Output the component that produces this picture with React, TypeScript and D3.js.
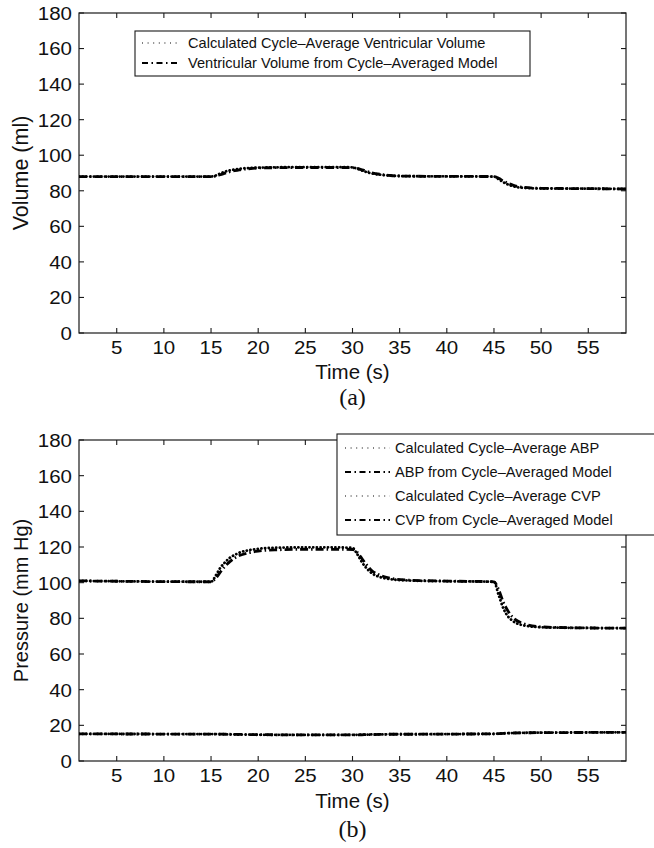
import React from "react";
import * as d3 from "d3";

// ---------- data ----------
const xTicks = [5, 10, 15, 20, 25, 30, 35, 40, 45, 50, 55];
const yTicks = [0, 20, 40, 60, 80, 100, 120, 140, 160, 180];

const timeS = [1, 15, 15.5, 16, 16.5, 17, 17.5, 18, 19, 20, 22, 25, 28, 30, 30.5, 31, 31.5, 32, 33, 34, 36, 40, 45, 45.5, 46, 46.5, 47, 48, 50, 55, 59];

const volCalc = [88, 88, 88.6, 89.8, 90.8, 91.5, 92, 92.4, 92.8, 93, 93.2, 93.3, 93.3, 93.2, 92.4, 91.4, 90.5, 89.8, 89, 88.5, 88.2, 88.1, 88, 86.5, 84.8, 83.5, 82.6, 81.7, 81.3, 81.2, 81];
const volModel = [88, 88, 88.3, 89, 89.9, 90.7, 91.3, 91.8, 92.4, 92.8, 93, 93.1, 93.1, 93, 92.6, 91.8, 91, 90.2, 89.2, 88.6, 88.2, 88.1, 88, 87, 85.5, 84.2, 83.2, 82, 81.4, 81.2, 81];

const abpCalc = [101, 100.5, 104, 108.5, 111.5, 114, 115.5, 116.8, 118.2, 119, 119.6, 119.8, 119.8, 119.5, 116, 111.5, 108, 105.5, 103, 102, 101.2, 100.8, 100.5, 93, 85.5, 81, 78.5, 76.2, 75, 74.6, 74.5];
const abpModel = [101, 100.5, 102.5, 106, 109.3, 111.8, 113.8, 115.2, 116.8, 117.7, 118.4, 118.7, 118.7, 118.6, 117, 113.5, 110, 107, 104, 102.5, 101.4, 100.9, 100.5, 96, 89, 84, 80.5, 77.3, 75.2, 74.6, 74.5];
const cvpCalc = [15.2, 15.1, 15.1, 15.0, 15.0, 14.9, 14.9, 14.8, 14.8, 14.7, 14.7, 14.6, 14.6, 14.7, 14.7, 14.8, 14.8, 14.9, 14.9, 15, 15, 15.1, 15.2, 15.4, 15.5, 15.6, 15.7, 15.8, 15.9, 16, 16.1];
const cvpModel = [15.2, 15.1, 15.1, 15.1, 15.0, 15.0, 14.9, 14.9, 14.8, 14.8, 14.7, 14.6, 14.6, 14.7, 14.7, 14.7, 14.8, 14.8, 14.9, 15, 15, 15.1, 15.2, 15.3, 15.5, 15.6, 15.7, 15.8, 15.9, 16, 16.1];

const legendA = ["Calculated Cycle\u2013Average Ventricular Volume", "Ventricular Volume from Cycle\u2013Averaged Model"];
const legendB = ["Calculated Cycle\u2013Average ABP", "ABP from Cycle\u2013Averaged Model", "Calculated Cycle\u2013Average CVP", "CVP from Cycle\u2013Averaged Model"];

// ---------- styles ----------
const SANS = "'Liberation Sans', Arial, Helvetica, sans-serif";
const SERIF = "'Liberation Serif', 'Times New Roman', serif";
const DOT = { dash: "0.1,3.6", width: 2.8, cap: "round" as const };
const DASHDOT = { dash: "8,3,1.5,3", width: 2.8, cap: "butt" as const };
const LEG_DOT = { dash: "1,4.6", width: 1.1, cap: "butt" as const };
const LEG_DASHDOT = { dash: "6,3.5,1.5,3.5", width: 1.8, cap: "butt" as const };

type Series = { values: number[]; style: typeof DOT };
type PanelProps = {
  top: number; bottom: number; yLabel: string; yLabelSize: number; caption: string;
  xLabelOff: number; capOff: number; series: Series[];
  legend: { labels: string[]; x: number; y: number; w: number; h: number; rowY: number[]; lx0: number; lx1: number; tx: number };
  id: string;
};

const LEFT = 79, RIGHT = 626;
const TICK_STRETCH = 1.08;

function Panel(p: PanelProps) {
  const x = d3.scaleLinear().domain([1, 59]).range([LEFT, RIGHT]);
  const y = d3.scaleLinear().domain([0, 180]).range([p.bottom, p.top]);
  const line = d3.line<number>().x((_, i) => x(timeS[i])).y((d) => y(d)).curve(d3.curveMonotoneX);
  const tl = 5;
  const axisColor = "#1a1a1a";
  const lg = p.legend;
  return (
    <g>
      <defs>
        <clipPath id={p.id}>
          <rect x={LEFT} y={p.top} width={RIGHT - LEFT} height={p.bottom - p.top} />
        </clipPath>
      </defs>
      <rect x={LEFT} y={p.top} width={RIGHT - LEFT} height={p.bottom - p.top} fill="none" stroke={axisColor} strokeWidth={1.2} />
      {xTicks.map((t) => (
        <g key={"x" + t}>
          <line x1={x(t)} x2={x(t)} y1={p.bottom} y2={p.bottom - tl} stroke={axisColor} strokeWidth={1.1} />
          <line x1={x(t)} x2={x(t)} y1={p.top} y2={p.top + tl} stroke={axisColor} strokeWidth={1.1} />
          <text transform={`translate(${x(t)},${p.bottom + 21}) scale(${TICK_STRETCH},1)`} textAnchor="middle" fontFamily={SANS} fontSize={19} fill="#111">{t}</text>
        </g>
      ))}
      {yTicks.map((t) => (
        <g key={"y" + t}>
          <line x1={LEFT} x2={LEFT + tl} y1={y(t)} y2={y(t)} stroke={axisColor} strokeWidth={1.1} />
          <line x1={RIGHT} x2={RIGHT - tl} y1={y(t)} y2={y(t)} stroke={axisColor} strokeWidth={1.1} />
          <text transform={`translate(${LEFT - 7},${y(t)}) scale(${TICK_STRETCH},1)`} dy="0.36em" textAnchor="end" fontFamily={SANS} fontSize={19} fill="#111">{t}</text>
        </g>
      ))}
      <g clipPath={`url(#${p.id})`}>
        {p.series.map((s, i) => (
          <path key={i} d={line(s.values) || ""} fill="none" stroke="#000" strokeWidth={s.style.width}
            strokeDasharray={s.style.dash} strokeLinecap={s.style.cap} />
        ))}
      </g>
      <text x={(LEFT + RIGHT) / 2} y={p.bottom + p.xLabelOff} textAnchor="middle" fontFamily={SANS} fontSize={20.5} fill="#111">Time (s)</text>
      <text x={(LEFT + RIGHT) / 2} y={p.bottom + p.capOff} textAnchor="middle" fontFamily={SERIF} fontSize={24} fill="#111">{p.caption}</text>
      <text transform={`translate(28,${(p.top + p.bottom) / 2}) rotate(-90)`} textAnchor="middle" fontFamily={SANS} fontSize={p.yLabelSize} fill="#111">{p.yLabel}</text>
      <rect x={lg.x} y={lg.y} width={lg.w} height={lg.h} fill="#fff" stroke={axisColor} strokeWidth={1.1} />
      {lg.labels.map((lab, i) => {
        const st = i % 2 === 0 ? LEG_DOT : LEG_DASHDOT;
        return (
          <g key={i}>
            <line x1={lg.lx0} x2={lg.lx1} y1={lg.rowY[i]} y2={lg.rowY[i]} stroke="#000" strokeWidth={st.width} strokeDasharray={st.dash} />
            <text x={lg.tx} y={lg.rowY[i]} dy="0.36em" fontFamily={SANS} fontSize={14.6} fill="#111">{lab}</text>
          </g>
        );
      })}
    </g>
  );
}

export default function App() {
  return (
    <svg width={654} height={848} viewBox="0 0 654 848" style={{ position: "absolute", left: 0, top: 0, background: "#fff" }}>
      <rect x={0} y={0} width={654} height={848} fill="#fff" />
      <Panel id="clipA" top={13} bottom={333} yLabel="Volume (ml)" yLabelSize={21.5} caption="(a)" xLabelOff={46} capOff={72}
        series={[{ values: volModel, style: DASHDOT }, { values: volCalc, style: DOT }]}
        legend={{ labels: legendA, x: 135, y: 31, w: 395, h: 45, rowY: [43, 63], lx0: 142, lx1: 180, tx: 188 }} />
      <Panel id="clipB" top={440} bottom={761} yLabel="Pressure (mm Hg)" yLabelSize={20} caption="(b)" xLabelOff={47} capOff={76}
        series={[{ values: abpModel, style: DASHDOT }, { values: abpCalc, style: DOT }, { values: cvpModel, style: DASHDOT }, { values: cvpCalc, style: DOT }]}
        legend={{ labels: legendB, x: 337, y: 434, w: 330, h: 101, rowY: [448, 472, 496, 520], lx0: 345, lx1: 390, tx: 395 }} />
    </svg>
  );
}
